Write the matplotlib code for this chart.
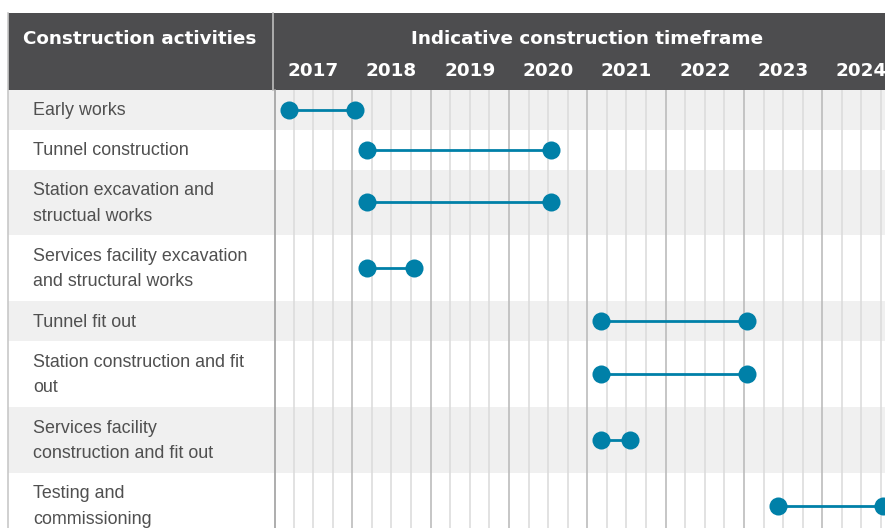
import matplotlib.pyplot as plt
import matplotlib.patches as mpatches
import numpy as np

activities = ["Early works",
              "Tunnel construction",
              "Station excavation and\nstructual works",
              "Services facility excavation\nand structural works",
              "Tunnel fit out",
              "Station construction and fit\nout",
              "Services facility\nconstruction and fit out",
              "Testing and\ncommissioning"]
start_year = [2017.19, 2018.19, 2018.19, 2018.19, 2021.18, 2021.18, 2021.18, 2023.44]
end_year   = [2018.04, 2020.54, 2020.54, 2018.79, 2023.04, 2023.04, 2021.54, 2024.78]
years      = [2017, 2018, 2019, 2020, 2021, 2022, 2023, 2024]

left_title = "Construction activities"
time_title = "Indicative construction timeframe"

# layout, in pixels
W, H = 885, 528
split_x = 274.0
year_px = 78.33
head_top, head_bot = 12.7, 89.5
header_col = "#4d4d4f"
stripe_col = "#f0f0f0"
dot_col = "#0080a8"
text_col = "#505050"

fig = plt.figure(figsize=(W / 100, H / 100), dpi=100)

# background / left column axes in pixel coords
bg = fig.add_axes([0, 0, 1, 1])
bg.set_xlim(0, W)
bg.set_ylim(H, 0)
bg.axis("off")

# timeline axes, x in years
tl = fig.add_axes([split_x / W, 0, (W - split_x) / W, 1], sharey=bg)
tl.set_xlim(years[0], years[0] + (W - split_x) / year_px)
tl.patch.set_alpha(0)
tl.axis("off")

# rows
row_tops = []
y = head_bot
for lab in activities:
    h = 40 if "\n" not in lab else 65.8
    row_tops.append((y, h))
    y += h

for i, (lab, (top, h)) in enumerate(zip(activities, row_tops)):
    if i % 2 == 0:
        bg.add_patch(mpatches.Rectangle((8, top), W, h, color=stripe_col, lw=0, zorder=0))
    bg.text(33, top + h / 2 + 1, lab, ha="left", va="center", fontsize=12.9,
            family="Liberation Sans", color=text_col, linespacing=1.66)

# header
bg.add_patch(mpatches.Rectangle((8, head_top), W, head_bot - head_top,
                                color=header_col, lw=0, zorder=3))
bg.text(140, 39, left_title, ha="center", va="center", fontsize=13.2,
        weight="bold", color="white", zorder=4)
bg.plot([8, 8], [head_top, H], color="#c8c8c8", lw=1.2, zorder=3)
bg.plot([split_x - 0.7, split_x - 0.7], [head_top, head_bot], color="#bdbdbd", lw=1.2, zorder=4)
bg.plot([split_x + 0.8, split_x + 0.8], [head_bot, H], color="#a0a0a0", lw=1.2, zorder=4)

# grid
quarters = np.arange(years[0], years[-1] + 1.01, 0.25)
minor = [q for q in quarters if q % 1 != 0]
major = [q for q in quarters if q % 1 == 0][1:]
tl.vlines(minor, head_bot, H, color="#dadada", lw=1.1, zorder=1)
tl.vlines(major, head_bot, H, color="#bcbcbc", lw=1.2, zorder=1)

tl.text(years[0] + len(years) / 2, 39, time_title, ha="center", va="center",
        fontsize=13.2, weight="bold", color="white", zorder=5)
for yr in years:
    tl.text(yr + 0.5, 71, str(yr), ha="center", va="center", fontsize=13.2,
            weight="bold", color="white", zorder=5)

# bars
for (top, h), s, e in zip(row_tops, start_year, end_year):
    yc = top + h / 2
    tl.plot([s, e], [yc, yc], color=dot_col, lw=2.0, zorder=3, solid_capstyle="butt")
    tl.plot([s, e], [yc, yc], "o", color=dot_col, ms=13, mew=0, zorder=4, clip_on=False)

fig.savefig("out.png", dpi=100)
